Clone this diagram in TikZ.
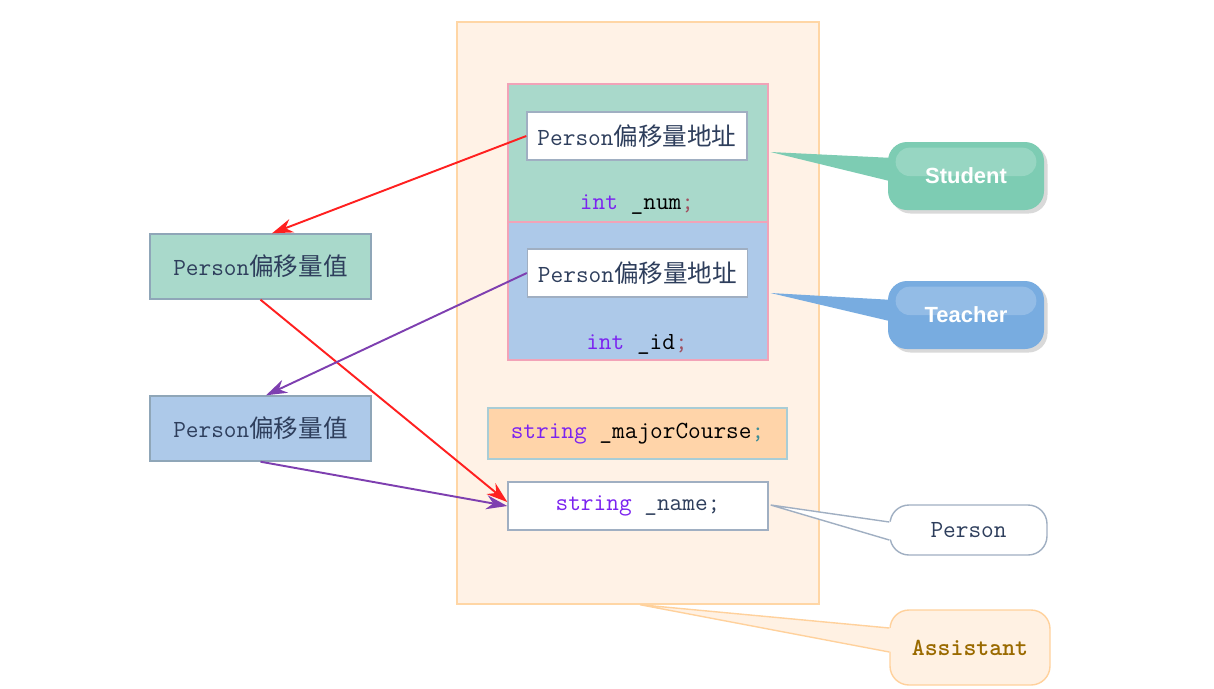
\documentclass[tikz,border=0pt]{standalone}
\usepackage{fontspec}
\setsansfont{Liberation Sans}
\newfontfamily\cjk{Noto Sans CJK SC}
\usepackage{tikz}
\usetikzlibrary{positioning,arrows.meta,shadows,calc}
\usepackage{xcolor}

\definecolor{asstFill}{HTML}{FFF2E6}
\definecolor{asstLine}{HTML}{FFD6A5}
\definecolor{stuFill}{HTML}{A9D9CB}
\definecolor{teaFill}{HTML}{ADC9E9}
\definecolor{blkLine}{HTML}{F2A3B8}
\definecolor{majFill}{HTML}{FFD4A9}
\definecolor{majLine}{HTML}{A9CDD6}
\definecolor{boxLine}{HTML}{A0AFC2}
\definecolor{valLine}{HTML}{8FA6B8}
\definecolor{stuCall}{HTML}{7DCCB3}
\definecolor{teaCall}{HTML}{78ACE0}
\definecolor{inkBlue}{HTML}{2E3E5C}
\definecolor{kwViolet}{HTML}{7B22F0}
\definecolor{semiRed}{HTML}{A05060}
\definecolor{semiTeal}{HTML}{3C8C96}
\definecolor{asstText}{HTML}{9A6A00}
\definecolor{asstCall}{HTML}{FFF1E3}
\definecolor{asstCallLine}{HTML}{FFD19C}
\definecolor{arrRed}{HTML}{FF2020}
\definecolor{arrViolet}{HTML}{7E3FB0}

\newcommand{\addrtxt}{Person{\cjk 偏移量地址}}
\newcommand{\valtxt}{Person{\cjk 偏移量值}}

\begin{document}
\begin{tikzpicture}[
>=Stealth,
font=\fontsize{14}{16}\selectfont\ttfamily,
every node/.style={inner sep=0pt,text=inkBlue},
blockbox/.style={draw=blkLine,line width=0.6pt,minimum width=5.2cm,minimum height=2.76cm},
addrbox/.style={draw=boxLine,fill=white,line width=0.8pt,minimum width=4.4cm,minimum height=0.96cm},
valbox/.style={draw=valLine,line width=0.8pt,minimum width=4.42cm,minimum height=1.3cm},
callout/.style={rounded corners=0.38cm,minimum width=3.12cm,minimum height=1.36cm},
glossy/.style={callout,text=white,font=\fontsize{12.5}{15}\selectfont\sffamily\bfseries,
  drop shadow={shadow xshift=2pt,shadow yshift=-2pt,opacity=0.3}},
link/.style={line width=1.1pt,-{Stealth[length=12pt,width=8pt]}}
]

\useasboundingbox (0,0) rectangle (24.28,-13.76);

% the Assistant object
\node[draw=asstLine,fill=asstFill,line width=0.8pt,minimum width=7.24cm,minimum height=11.64cm] (asst) at (12.76,-6.26) {};

\node[blockbox,fill=stuFill] (stublk) at (12.76,-3.06) {};
\node[addrbox] (addr1) at (12.74,-2.72) {\addrtxt};
\node (num) at (12.74,-4.10) {\textcolor{kwViolet}{int} \textcolor{black}{\_num}\textcolor{semiRed}{;}};

\node[blockbox,fill=teaFill] (teablk) at (12.76,-5.82) {};
\node[addrbox] (addr2) at (12.75,-5.46) {\addrtxt};
\node (id) at (12.74,-6.88) {\textcolor{kwViolet}{int} \textcolor{black}{\_id}\textcolor{semiRed}{;}};

\node[draw=majLine,fill=majFill,line width=0.8pt,minimum width=5.98cm,minimum height=1.02cm] (major) at (12.75,-8.67)
  {\textcolor{kwViolet}{string} \textcolor{black}{\_majorCourse}\textcolor{semiTeal}{;}};
\node[addrbox,minimum width=5.2cm] (name) at (12.76,-10.12) {\textcolor{kwViolet}{string} \_name;};

% offset values
\node[valbox,fill=stuFill] (val1) at (5.21,-5.33) {\valtxt};
\node[valbox,fill=teaFill] (val2) at (5.21,-8.57) {\valtxt};

% callouts
\node[glossy,fill=stuCall] (stu) at (19.32,-3.52) {Student};
\node[glossy,fill=teaCall] (tea) at (19.32,-6.30) {Teacher};
\node[callout,draw=boxLine,fill=white,line width=0.8pt,minimum width=3.14cm,minimum height=1.0cm] (per) at (19.37,-10.6) {Person};
\node[callout,draw=asstCallLine,fill=asstCall,line width=0.8pt,minimum width=3.2cm,minimum height=1.5cm,text=asstText,font=\fontsize{14}{16}\selectfont\ttfamily\bfseries] (ast) at (19.4,-12.95) {Assistant};

\fill[white,opacity=0.2,rounded corners=0.28cm] ($(stu.north west)+(0.16,-0.12)$) rectangle ($(stu.east)+(-0.16,0.0)$);
\fill[white,opacity=0.2,rounded corners=0.28cm] ($(tea.north west)+(0.16,-0.12)$) rectangle ($(tea.east)+(-0.16,0.0)$);

\coordinate (stuTip) at ($(stublk.east)+(0.04,0.02)$);
\coordinate (teaTip) at ($(teablk.east)+(0.04,-0.04)$);
\coordinate (perTip) at ($(name.east)+(0.04,0.02)$);
\coordinate (astTip) at ($(asst.south)+(0.04,0)$);

\fill[stuCall] (stuTip) -- ($(stu.west)+(0.12,0.36)$) -- ($(stu.west)+(0.12,-0.12)$) -- cycle;
\fill[teaCall] (teaTip) -- ($(tea.west)+(0.12,0.30)$) -- ($(tea.west)+(0.12,-0.14)$) -- cycle;
\fill[white] (perTip) -- ($(per.west)+(0.06,0.16)$) -- ($(per.west)+(0.06,-0.20)$) -- cycle;
\draw[boxLine,line width=0.8pt] ($(per.west)+(0,0.16)$) -- (perTip) -- ($(per.west)+(0,-0.20)$);
\fill[asstCall] (astTip) -- ($(ast.west)+(0.06,0.39)$) -- ($(ast.west)+(0.06,-0.09)$) -- cycle;
\draw[asstCallLine,line width=0.8pt] ($(ast.west)+(0,0.39)$) -- (astTip) -- ($(ast.west)+(0,-0.09)$);

% pointers
\draw[link,arrRed] (addr1.west) -- ([xshift=0.23cm]val1.north);
\draw[link,arrRed] (val1.south) -- ([yshift=0.08cm]name.west);
\draw[link,arrViolet] (addr2.west) -- ([xshift=0.11cm]val2.north);
\draw[link,arrViolet] (val2.south) -- (name.west);

\end{tikzpicture}
\end{document}
